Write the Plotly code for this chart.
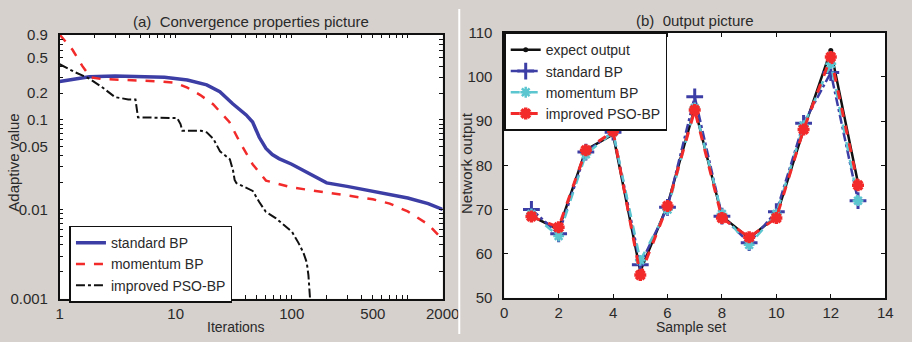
import plotly.graph_objects as go

# ---------------- data: (a) convergence ----------------
std_iter = [1, 1.8, 3, 5, 8, 12.6, 18.5, 24, 31, 40.5, 46, 52.5, 60, 68, 77.6, 100, 150, 200, 300, 500, 700, 1000, 1500, 2000]
std_val = [0.27, 0.305, 0.31, 0.305, 0.30, 0.28, 0.247, 0.207, 0.152, 0.114, 0.095, 0.064, 0.048, 0.041, 0.037, 0.032, 0.024, 0.0198, 0.0181, 0.016, 0.0148, 0.0134, 0.0116, 0.0100]

mom_iter = [1, 1.29, 1.57, 1.84, 2.3, 4.4, 7.5, 10, 12.6, 16.3, 21, 29, 35.6, 46, 60, 100, 200, 300, 500, 700, 1000, 1500, 2000]
mom_val = [0.9, 0.61, 0.4, 0.3, 0.287, 0.28, 0.27, 0.26, 0.23, 0.19, 0.15, 0.095, 0.057, 0.032, 0.021, 0.0176, 0.0155, 0.0144, 0.013, 0.0116, 0.0095, 0.0068, 0.0046]

pso_iter = [1, 1.37, 1.8, 2.3, 3.0, 3.9, 4.5, 4.73, 10.3, 11.0, 11.4, 16.5, 18.5, 21.1, 24.1, 27.4, 29.3, 31.2, 32.2, 33.3, 40.5, 46.1, 52.5, 59.8, 72.7, 88.3, 100.7, 114.6, 125.9, 134.8, 139.3, 143.9, 145]
pso_val = [0.42, 0.34, 0.29, 0.235, 0.18, 0.17, 0.17, 0.107, 0.105, 0.09, 0.0759, 0.0759, 0.0727, 0.0617, 0.0446, 0.0394, 0.0363, 0.0273, 0.0214, 0.0197, 0.0174, 0.0161, 0.0121, 0.0094, 0.0080, 0.0065, 0.0056, 0.0042, 0.0033, 0.00255, 0.00184, 0.001, 0.0008]

# ---------------- data: (b) output ----------------
samples = [1, 2, 3, 4, 5, 6, 7, 8, 9, 10, 11, 12, 13]
expect_out = [68.5, 65.5, 83.5, 87.0, 56.0, 71.0, 93.0, 68.5, 63.5, 68.5, 88.0, 106.0, 76.0]
standard_out = [70.0, 64.5, 83.0, 87.5, 57.5, 70.5, 95.5, 68.5, 62.5, 69.5, 89.5, 101.0, 72.0]
momentum_out = [69.0, 64.0, 82.5, 87.5, 58.5, 70.0, 93.0, 69.0, 62.0, 69.0, 89.0, 103.0, 72.0]
pso_out = [68.4, 66.0, 83.4, 87.7, 55.2, 70.8, 92.5, 68.1, 63.7, 68.1, 88.1, 104.5, 75.5]

# tick labels
left_x_labels = {1: "1", 10: "10", 100: "100", 500: "500", 2000: "2000"}
left_y_labels = {0.001: "0.001", 0.01: "0.01", 0.05: "0.05", 0.1: "0.1", 0.2: "0.2", 0.5: "0.5", 0.9: "0.9"}

BLUE = "#3d3da6"
RED = "#f22a2a"
CYAN = "#5cc6d0"
BLACK = "#111111"
BG = "#d6d1cd"
TXT = "#2a2a2a"
FONT = "Arial, Liberation Sans, sans-serif"

fig = go.Figure()

# (a)
fig.add_trace(go.Scatter(x=std_iter, y=std_val, mode="lines", name="standard BP",
                         line=dict(color=BLUE, width=3.5), xaxis="x", yaxis="y", legend="legend"))
fig.add_trace(go.Scatter(x=mom_iter, y=mom_val, mode="lines", name="momentum BP",
                         line=dict(color=RED, width=2.5, dash="dash"), xaxis="x", yaxis="y", legend="legend"))
fig.add_trace(go.Scatter(x=pso_iter, y=pso_val, mode="lines", name="improved PSO-BP",
                         line=dict(color=BLACK, width=2, dash="dashdot"), xaxis="x", yaxis="y", legend="legend"))

# (b)
fig.add_trace(go.Scatter(x=samples, y=expect_out, mode="lines+markers", name="expect output",
                         line=dict(color=BLACK, width=2.5),
                         marker=dict(symbol="circle", size=5, color=BLACK),
                         xaxis="x2", yaxis="y2", legend="legend2"))
fig.add_trace(go.Scatter(x=samples, y=standard_out, mode="lines+markers", name="standard BP",
                         line=dict(color=BLUE, width=2.5, dash="dashdot"),
                         marker=dict(symbol="cross-thin-open", size=12, line=dict(color=BLUE, width=3)),
                         xaxis="x2", yaxis="y2", legend="legend2"))
fig.add_trace(go.Scatter(x=samples, y=momentum_out, mode="lines+markers", name="momentum BP",
                         line=dict(color=CYAN, width=2.5, dash="dash"),
                         marker=dict(symbol="asterisk-open", size=9, line=dict(color=CYAN, width=2.5)),
                         xaxis="x2", yaxis="y2", legend="legend2"))
fig.add_trace(go.Scatter(x=samples, y=pso_out, mode="lines+markers", name="improved PSO-BP",
                         line=dict(color=RED, width=3, dash="dash"),
                         marker=dict(symbol="asterisk-open", size=10, line=dict(color=RED, width=3.5)),
                         xaxis="x2", yaxis="y2", legend="legend2"))

# log tick positions
xt, xtt = [], []
for d in [1, 10, 100, 1000]:
    for m in range(1, 10):
        v = d * m
        if v > 2000:
            break
        xt.append(v)
        xtt.append(left_x_labels.get(v, ""))
yt, ytt = [], []
for d in [0.001, 0.01, 0.1]:
    for m in range(1, 10):
        v = round(d * m, 4)
        yt.append(v)
        ytt.append(left_y_labels.get(v, ""))

axis_common = dict(showline=True, linecolor="#111111", linewidth=1.5, mirror="allticks",
                   ticks="inside", ticklen=4, tickwidth=1, tickcolor="#111111",
                   showgrid=False, zeroline=False,
                   tickfont=dict(family=FONT, size=15, color=TXT))

fig.update_layout(
    width=912, height=342,
    margin=dict(l=0, r=0, t=0, b=0),
    paper_bgcolor=BG, plot_bgcolor="white",
    font=dict(family=FONT, size=15, color=TXT),
    xaxis=dict(domain=[57/912, 449/912], type="log", range=[0, 3.30103],
               tickvals=xt, ticktext=xtt, anchor="y", ticklabelstandoff=0, **axis_common),
    yaxis=dict(domain=[1-305/342, 1-27/342], type="log", range=[-3, -0.045757],
               tickvals=yt, ticktext=ytt, anchor="x", ticklabelstandoff=7, **axis_common),
    xaxis2=dict(domain=[512/912, 902/912], range=[0, 14], dtick=2, anchor="y2",
                ticklabelstandoff=0, **axis_common),
    yaxis2=dict(domain=[1-304/342, 1-25/342], range=[50, 110], dtick=10, anchor="x2",
                ticklabelstandoff=7, **axis_common),
    legend=dict(x=67/912, y=1-228/342, xanchor="left", yanchor="top",
                bgcolor="white", bordercolor="#111111", borderwidth=1.5,
                font=dict(size=14, color=TXT), itemwidth=30, tracegroupgap=0),
    legend2=dict(x=512/912, y=1-25/342, xanchor="left", yanchor="top",
                 bgcolor="white", bordercolor="#111111", borderwidth=1.5,
                 font=dict(size=14, color=TXT), itemwidth=30, tracegroupgap=0),
    showlegend=True,
)

annos = [
    dict(text="(a)  Convergence properties picture", x=(57+449)/2/912, y=1-13/342, font=dict(size=15)),
    dict(text="(b)  0utput picture", x=(512+902)/2/912, y=1-12/342, font=dict(size=15)),
    dict(text="Iterations", x=237/912, y=1-335/342, font=dict(size=14)),
    dict(text="Sample set", x=703/912, y=1-335/342, font=dict(size=14)),
    dict(text="Adaptive value", x=10/912, y=1-162/342, textangle=-90, font=dict(size=15)),
    dict(text="Network output", x=474/912, y=1-162/342, textangle=-90, font=dict(size=15)),
]
for a in annos:
    fig.add_annotation(xref="paper", yref="paper", showarrow=False,
                       xanchor="center", yanchor="middle", **a)

fig.add_shape(type="line", xref="paper", yref="paper", x0=466/912, x1=466/912, y0=0, y1=1,
              line=dict(color="white", width=2))

fig.write_html("out.html")
